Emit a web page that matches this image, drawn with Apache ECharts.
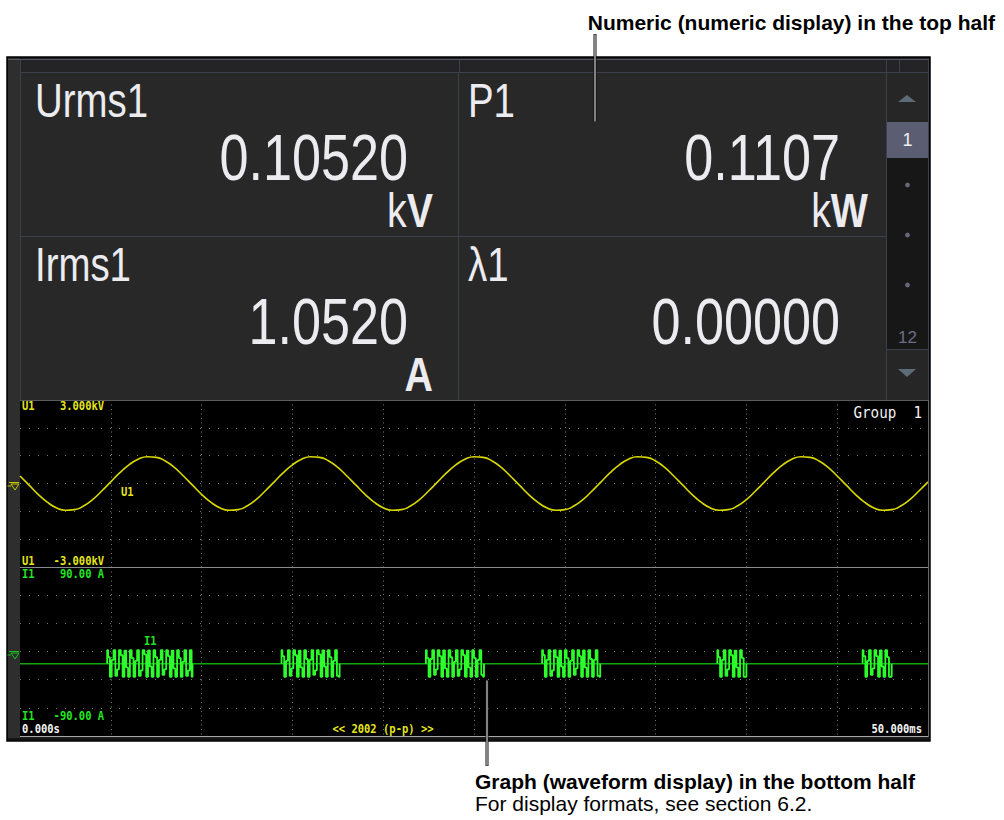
<!DOCTYPE html>
<html><head><meta charset="utf-8">
<script src="https://cdn.jsdelivr.net/npm/echarts@6/dist/echarts.min.js"></script>
<style>html,body{margin:0;padding:0;background:#fff;}#c{width:1004px;height:820px;}</style>
</head><body><div id="c"></div>
<script>
// ---------------- data ----------------
const timeRangeMs = [0, 50];
const timeGridStepMs = 5;
const u1Range = [-3, 3];
const u1GridStep = 1;
const i1Range = [-90, 90];
const i1GridStep = 30;

// U1 voltage waveform (kV), one sample every 0.5 ms
const u1StepMs = 0.5;
const u1Values = [
  0.27,-0.06,-0.39,-0.67,-0.87,-0.96,-0.94,-0.81,-0.58,-0.27,0.06,0.39,0.67,0.87,0.96,0.94,0.81,0.58,
  0.27,-0.06,-0.39,-0.67,-0.87,-0.96,-0.94,-0.81,-0.58,-0.27,0.06,0.39,0.67,0.87,0.96,0.94,0.81,0.58,
  0.27,-0.06,-0.39,-0.67,-0.87,-0.96,-0.94,-0.81,-0.58,-0.27,0.06,0.39,0.67,0.87,0.96,0.94,0.81,0.58,
  0.27,-0.06,-0.39,-0.67,-0.87,-0.96,-0.94,-0.81,-0.58,-0.27,0.06,0.39,0.67,0.87,0.96,0.94,0.81,0.58,
  0.27,-0.06,-0.39,-0.67,-0.87,-0.96,-0.94,-0.81,-0.58,-0.27,0.06,0.39,0.67,0.87,0.96,0.94,0.81,0.58,
  0.27,-0.06,-0.39,-0.67,-0.87,-0.96,-0.94,-0.81,-0.58,-0.27,0.06
];

// I1 current (A): flat level between bursts, bursts sampled every 0.1 ms
const i1Baseline = -13;
const i1StepMs = 0.1;
const burstStartsMs = [4.8, 14.4, 22.35, 28.75, 38.4, 46.4];
const burst1 = [1.5,-6,-27,-9,1.5,-26,-19,1.5,-4,-27,1,-17,-27,1.5,-7,-27,-10,1.5,-26,-20,1.5,-3,-27,1.2,-16,-27,1.5,-6,-27,-9,1.5,-25,-19,1.5,-5,-27,1,-18,-27,1.5,-7,-27,-11,1.5,-26,-20,1.5,-27];
const burst2 = [1.5,-5,-27,-10,1.5,-26,-18,1.5,-4,-27,1,-17,-27,1.5,-8,-27,-9,1.5,-25,-20,1.5,-3,-27,1.2,-16,-27,1.5,-6,-27,-10,1.5,-26,-27];
const burst3 = [1.5,-7,-27,-8,1.5,-25,-19,1.5,-5,-27,1.2,-18,-27,1.5,-6,-27,-11,1.5,-26,-19,1.5,-4,-27,1,-17,-27,1.5,-7,-27,-9,1.5,-25,-27];
const burst4 = [1.5,-4,-27,-9,1.5,-26,-20,1.5,-6,-27,1,-16,-27,1.5,-7,-27,-10,1.5,-25,-18,1.5,-5,-27,1.2,-17,-27,1.5,-8,-27,-9,1.5,-26,-27];
const burst5 = [1.5,-6,-27,-9,1.5,-26,-19,1.5,-4,-27,1,-17,-27,1.5,-7,-27,-27];
const burst6 = [1.5,-5,-27,-10,1.5,-25,-18,1.5,-5,-27,1.2,-16,-27,1.5,-6,-27,-27];
const bursts = [burst1, burst2, burst3, burst4, burst5, burst6];

// numeric display
const numericLabels = ['Urms1', 'P1', 'Irms1', 'λ1'];
const numericValues = ['0.10520', '0.1107', '1.0520', '0.00000'];
const numericUnitPrefix = ['k', 'k', '', ''];
const numericUnitBase = ['V', 'W', 'A', ''];
const pageCurrent = '1';
const pageLast = '12';

// waveform texts
const u1Name = 'U1';
const i1Name = 'I1';
const u1ScaleLabels = ['3.000kV', '-3.000kV'];
const i1ScaleLabels = ['90.00 A', '-90.00 A'];
const timeLabels = ['0.000s', '50.000ms'];
const centerLabel = '<< 2002 (p-p) >>';
const groupLabel = 'Group  1';
const topNote = 'Numeric (numeric display) in the top half';
const bottomNote = 'Graph (waveform display) in the bottom half';
const bottomSubNote = 'For display formats, see section 6.2.';

// ---------------- drawing ----------------
const SANS = "'Liberation Sans',Arial,Helvetica,sans-serif";
const MONO = "'DejaVu Sans Mono','Liberation Mono',monospace";
const BORDER = '#3b404c';
const YEL = '#e4e41c';
const GRN = '#22e622';
const WHITE_T = '#ececf0';

const g = [];
function rect(x, y, w, h, fill, z, extra) {
  g.push({type: 'rect', silent: true, z: z, shape: {x, y, width: w, height: h}, style: Object.assign({fill}, extra || {})});
}
function line(x1, y1, x2, y2, stroke, w, z) {
  g.push({type: 'line', silent: true, z: z == null ? 5 : z, shape: {x1, y1, x2, y2}, style: {stroke, lineWidth: w || 1}});
}
function text(x, y, str, font, fill, align, z, extra, sx) {
  g.push({type: 'text', silent: true, z: z == null ? 20 : z, x, y, scaleX: sx || 1,
    style: Object.assign({text: str, font, fill, align: align || 'left', textAlign: align || 'left', verticalAlign: 'middle', textVerticalAlign: 'middle'}, extra || {})});
}

// frame and backgrounds
rect(7, 57, 923, 684, '#1d1d1d', -10, {stroke: '#000', lineWidth: 1.5});
rect(8, 58, 12, 680, '#2e2e2e', -9);
rect(20, 60, 908, 12, '#242426', -9);
rect(20, 72, 866, 328, '#282828', -9);
rect(20, 400, 908, 336, '#000000', -9);
line(8, 59.5, 929, 59.5, '#55585f', 1, 1);

// numeric grid lines
line(20, 72.5, 928, 72.5, BORDER);
line(20, 236.5, 886, 236.5, BORDER);
line(458.5, 72, 458.5, 400, BORDER);
line(886.5, 60, 886.5, 400, BORDER);
line(20.5, 60, 20.5, 400, BORDER);
line(928.5, 60, 928.5, 400, BORDER);
line(459.5, 60, 459.5, 72, BORDER);
line(899.5, 60, 899.5, 72, BORDER);

// page scroller
rect(887, 73, 41, 49, '#262626', -5);
rect(887, 122, 41, 36, '#5b5d72', -5);
rect(887, 158, 41, 191, '#171717', -5);
rect(887, 349, 41, 51, '#262626', -5);
line(887, 349.5, 928, 349.5, BORDER);
g.push({type: 'polygon', silent: true, z: 6, shape: {points: [[898, 102], [916, 102], [907, 95]]}, style: {fill: '#5d6a78'}});
g.push({type: 'polygon', silent: true, z: 6, shape: {points: [[898, 369], [916, 369], [907, 377]]}, style: {fill: '#5d6a78'}});
[185, 235, 285].forEach(cy => g.push({type: 'circle', silent: true, z: 6, shape: {cx: 907.5, cy, r: 2.4}, style: {fill: '#66687e'}}));
text(907.5, 140, pageCurrent, '18px ' + SANS, '#eceef4', 'center');
text(907.5, 337, pageLast, '17px ' + SANS, '#6c6e84', 'center');

// numeric cells (condensed sans via horizontal scale)
const labelX = [35, 468], valueRight = [408, 840], unitRight = [433, 868];
numericLabels.forEach((lab, i) => {
  const col = i % 2, off = Math.floor(i / 2) * 164;
  text(labelX[col], 100.5 + off, lab, '48px ' + SANS, WHITE_T, 'left', 20, null, 0.8);
  text(valueRight[col], 158 + off, numericValues[i], '64px ' + SANS, WHITE_T, 'right', 20, null, 0.815);
  let rich = '';
  if (numericUnitPrefix[i]) rich += '{p|' + numericUnitPrefix[i] + '}';
  if (numericUnitBase[i]) rich += '{b|' + numericUnitBase[i] + '}';
  if (rich) {
    text(unitRight[col], 210 + off, rich, '48px ' + SANS, WHITE_T, 'right', 20, {
      rich: {p: {font: '48px ' + SANS, fill: WHITE_T}, b: {font: 'bold 48px ' + SANS, fill: WHITE_T}}
    }, 0.82);
  }
});

// waveform borders
line(20, 400.5, 928, 400.5, '#5c5c5c', 1, 30);
line(20, 567.5, 928, 567.5, '#8a8a8a', 1, 30);
line(20, 736.5, 928, 736.5, '#a8a8a8', 1.2, 30);
line(928.5, 400, 928.5, 737, '#6a6a6a', 1, 30);
line(8, 739.5, 930, 739.5, '#111', 2, 30);

// ground markers
function groundMark(cy, color) {
  line(9, cy - 4.5, 19, cy - 4.5, color, 1, 30);
  g.push({type: 'polygon', silent: true, z: 30, shape: {points: [[11, cy - 3], [19, cy - 3], [15, cy + 3]]}, style: {fill: 'none', stroke: color, lineWidth: 1}});
  line(7.5, cy - 1, 11, cy - 1, color, 1, 30);
}
groundMark(487, '#c8c800');
groundMark(656, '#18c018');

// waveform texts (tall bitmap-like mono, condensed)
const WF = 'bold 12px ' + MONO;
const WS = 0.875;
text(22, 406, u1Name + '    ' + u1ScaleLabels[0], WF, YEL, 'left', 20, null, WS);
text(22, 561, u1Name + '   ' + u1ScaleLabels[1], WF, YEL, 'left', 20, null, WS);
text(22, 574, i1Name + '    ' + i1ScaleLabels[0], WF, GRN, 'left', 20, null, WS);
text(22, 716, i1Name + '   ' + i1ScaleLabels[1], WF, GRN, 'left', 20, null, WS);
text(22, 729.5, timeLabels[0], WF, '#f4f4f4', 'left', 20, null, WS);
text(922, 729, timeLabels[1], WF, '#f4f4f4', 'right', 20, null, WS);
text(383, 729, centerLabel, WF, YEL, 'center', 20, null, WS);
text(922, 412, groupLabel, '15px ' + MONO, '#f2f2f2', 'right', 20, null, 0.95);
text(121, 492.5, u1Name, WF, YEL, 'left', 20, null, WS);
text(144, 641, i1Name, WF, GRN, 'left', 20, null, WS);

// annotations and leader lines
function leader(x, y1, y2) {
  line(x, y1, x, y2, '#111', 3, 60);
  line(x, y1 + 0.5, x, y2 - 0.5, '#f4f4f4', 1, 61);
}
leader(595, 34, 122);
leader(487, 680, 766);
text(995, 22, topNote, 'bold 21px ' + SANS, '#000', 'right', 70);
text(475, 781, bottomNote, 'bold 21px ' + SANS, '#000', 'left', 70);
text(475, 803, bottomSubNote, '21px ' + SANS, '#000', 'left', 70);

// ---------------- chart ----------------
const u1Data = u1Values.map((v, i) => [i * u1StepMs, v]);
const burstSeries = bursts.map((vals, b) => {
  const s = burstStartsMs[b];
  const d = [[s, i1Baseline]];
  vals.forEach((v, i) => d.push([s + i * i1StepMs, v]));
  d.push([s + (vals.length - 1) * i1StepMs, i1Baseline]);
  return {type: 'line', xAxisIndex: 1, yAxisIndex: 1, data: d, showSymbol: false, silent: true, z: 4,
    step: 'middle', lineStyle: {color: '#2cff2c', width: 1.8}};
});

function xAx(idx) {
  return {gridIndex: idx, type: 'value', min: timeRangeMs[0], max: timeRangeMs[1], interval: timeGridStepMs,
    axisLine: {show: false}, axisTick: {show: false}, axisLabel: {show: false},
    splitLine: {show: true, showMinLine: false, showMaxLine: false, lineStyle: {color: '#777', width: 1, type: [1, 3.5]}}};
}
function yAx(idx, r, step) {
  return {gridIndex: idx, type: 'value', min: r[0], max: r[1], interval: step,
    axisLine: {show: false}, axisTick: {show: false}, axisLabel: {show: false},
    splitLine: {show: true, showMinLine: false, showMaxLine: false, lineStyle: {color: '#777', width: 1, type: [1, 8]}}};
}

const chart = echarts.init(document.getElementById('c'), null, {renderer: 'svg', width: 1004, height: 820});
chart.setOption({
  backgroundColor: '#ffffff',
  animation: false,
  grid: [
    {left: 20, top: 400, width: 908, height: 167, show: false},
    {left: 20, top: 567, width: 908, height: 169, show: false}
  ],
  xAxis: [xAx(0), xAx(1)],
  yAxis: [yAx(0, u1Range, u1GridStep), yAx(1, i1Range, i1GridStep)],
  series: [
    {type: 'line', xAxisIndex: 0, yAxisIndex: 0, data: u1Data, smooth: true, showSymbol: false, silent: true, z: 4,
      lineStyle: {color: '#d8d800', width: 1.6}},
    {type: 'line', xAxisIndex: 1, yAxisIndex: 1, data: [[timeRangeMs[0], i1Baseline], [timeRangeMs[1], i1Baseline]],
      showSymbol: false, silent: true, z: 3, lineStyle: {color: '#12a612', width: 1.5}}
  ].concat(burstSeries),
  graphic: {elements: g}
});
</script></body></html>
